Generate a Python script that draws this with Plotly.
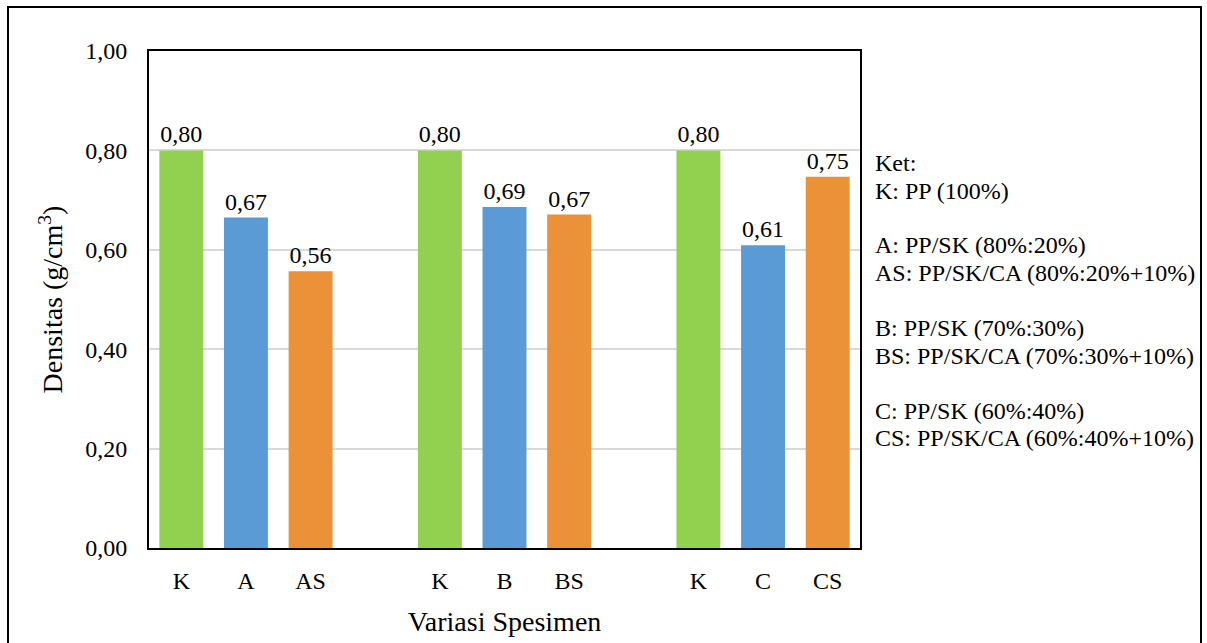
import plotly.graph_objects as go

# Data
labels = ["K", "A", "AS", "K", "B", "BS", "K", "C", "CS"]
groups = [0, 0, 0, 1, 1, 1, 2, 2, 2]
values = [0.80, 0.665, 0.557, 0.80, 0.686, 0.671, 0.80, 0.609, 0.747]
kinds = ["K", "P", "S", "K", "P", "S", "K", "P", "S"]
kind_colors = {"K": "#92D050", "P": "#5B9BD5", "S": "#EB9138"}

ket_lines = [
    "Ket:",
    "K: PP (100%)",
    "",
    "A: PP/SK (80%:20%)",
    "AS: PP/SK/CA (80%:20%+10%)",
    "",
    "B: PP/SK (70%:30%)",
    "BS: PP/SK/CA (70%:30%+10%)",
    "",
    "C: PP/SK (60%:40%)",
    "CS: PP/SK/CA (60%:40%+10%)",
]

# positions: 3 bars per group with one empty slot between groups
xpos = [g * 4 + (i % 3) for i, g in enumerate(groups)]
colors = [kind_colors[k] for k in kinds]

FONT = "Liberation Serif"

fig = go.Figure()
fig.add_trace(go.Bar(
    x=xpos, y=values, marker=dict(color=colors, line=dict(width=0)),
    width=0.68,
    texttemplate="%{y:.2f}", textposition="outside",
    textfont=dict(family=FONT, size=24, color="black"),
    cliponaxis=False, showlegend=False,
))

plot_l, plot_r, plot_t, plot_b = 149, 860, 51, 548
W, H = 1207, 643
pw, ph = plot_r - plot_l, plot_b - plot_t

fig.update_layout(
    width=W, height=H,
    margin=dict(l=plot_l, r=W - plot_r, t=plot_t, b=H - plot_b, pad=0),
    plot_bgcolor="white", paper_bgcolor="white",
    separators=",.",
    font=dict(family=FONT, color="black"),
    xaxis=dict(
        range=[-0.5, 10.5], tickvals=xpos, ticktext=labels,
        showline=True, linecolor="black", linewidth=2, mirror=True,
        ticks="", showgrid=False, zeroline=False,
        ticklabelstandoff=10,
        tickfont=dict(family=FONT, size=24, color="black"),
        title=dict(text="Variasi Spesimen", font=dict(family=FONT, size=28, color="black"), standoff=19),
    ),
    yaxis=dict(
        range=[0, 1.0], tickvals=[0, 0.2, 0.4, 0.6, 0.8, 1.0], tickformat=".2f",
        showline=True, linecolor="black", linewidth=2, mirror=True,
        showgrid=True, gridcolor="#d9d9d9", gridwidth=1.5, zeroline=False,
        ticks="", ticklen=0, ticklabelstandoff=15,
        tickfont=dict(family=FONT, size=24, color="black"),
        title=dict(text="Densitas (g/cm<sup>3</sup>)", font=dict(family=FONT, size=28, color="black"), standoff=14),
    ),
)

# outer frame
fig.add_shape(type="rect", xref="paper", yref="paper",
              x0=(8 - plot_l) / pw, x1=(1201 - plot_l) / pw,
              y0=-0.4, y1=(plot_b - 7) / ph,
              line=dict(color="black", width=2), fillcolor="rgba(0,0,0,0)", layer="below")

# note text
line_step = 27.5
y0 = 163
for i, txt in enumerate(ket_lines):
    if not txt:
        continue
    ypix = y0 + i * line_step
    fig.add_annotation(
        xref="paper", yref="paper",
        x=(873 - plot_l) / pw, y=(plot_b - ypix) / ph,
        xanchor="left", yanchor="middle", showarrow=False,
        text=txt, font=dict(family=FONT, size=24, color="black"), align="left",
    )

fig.write_html("out.html")
